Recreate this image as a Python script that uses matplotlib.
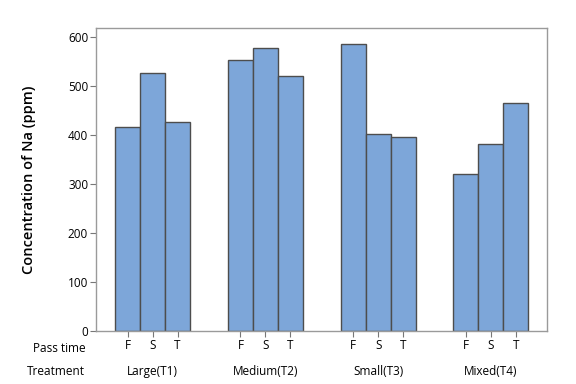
import matplotlib.pyplot as plt
import numpy as np

plt.rcParams['font.family'] = ['Open Sans', 'DejaVu Sans']

treatments = ['Large(T1)', 'Medium(T2)', 'Small(T3)', 'Mixed(T4)']
pass_times = ['F', 'S', 'T']
na_values = [
    [417, 527, 427],
    [554, 578, 521],
    [586, 402, 396],
    [321, 382, 466],
]
y_ticks = [0, 100, 200, 300, 400, 500, 600]

fig = plt.figure(figsize=(5.76, 3.84), dpi=100)
ax = fig.add_axes([0.1675, 0.138, 0.7822, 0.790])

group_step = 4.52
xs, labels = [], []
for g, vals in enumerate(na_values):
    pos = g * group_step + np.arange(len(pass_times))
    ax.bar(pos, vals, width=1.0, color='#7DA6D9', edgecolor='#4D4D4D', linewidth=1.0)
    xs.extend(pos)
    labels.extend(pass_times)
    ax.text(pos[1], -0.132, treatments[g], transform=ax.get_xaxis_transform(),
            ha='center', va='center', fontsize=8.5)

ax.set_xlim(-1.25, 3 * group_step + 3.25)
ax.set_ylim(0, 620)
ax.set_yticks(y_ticks)
ax.set_xticks(xs)
ax.set_xticklabels(labels, fontsize=8.5)
ax.tick_params(axis='y', labelsize=8.5, length=4, color='#777777', pad=2)
ax.tick_params(axis='x', length=4, color='#777777', pad=2)

ax.text(-0.025, -0.057, 'Pass time', transform=ax.transAxes, ha='right', va='center', fontsize=8.5)
ax.text(-0.025, -0.132, 'Treatment', transform=ax.transAxes, ha='right', va='center', fontsize=8.5)

for s in ax.spines.values():
    s.set_color('#9A9A9A')
    s.set_linewidth(1.0)

ax.set_ylabel('Concentration of Na (ppm)', fontsize=10.5, fontweight='semibold', labelpad=23)

fig.savefig('out.png', dpi=100)
